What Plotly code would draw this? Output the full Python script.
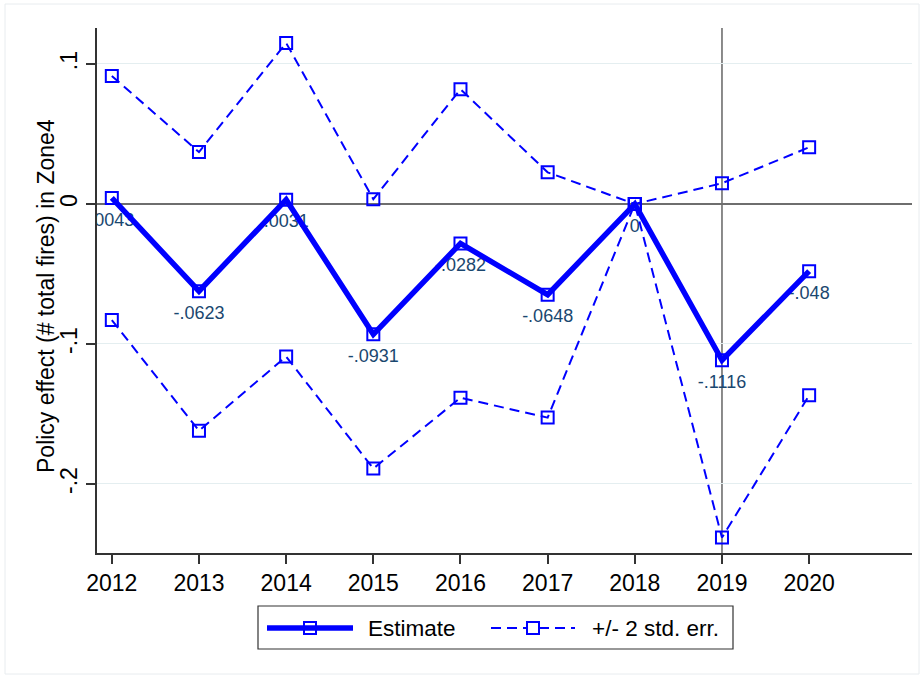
import plotly.graph_objects as go

# Event-study estimates by year with +/- 2 standard-error bands
years = [2012, 2013, 2014, 2015, 2016, 2017, 2018, 2019, 2020]
estimate = [0.0043, -0.0623, 0.0031, -0.0931, -0.0282, -0.0648, 0.0, -0.1116, -0.048]
upper = [0.0914, 0.0371, 0.115, 0.0034, 0.082, 0.0226, 0.0, 0.0148, 0.0405]
lower = [-0.0829, -0.162, -0.109, -0.189, -0.1384, -0.1526, 0.0, -0.2383, -0.1367]

ytick_vals = [-0.2, -0.1, 0, 0.1]
ytick_text = ["-.2", "-.1", "0", ".1"]
ylabel = "Policy effect (# total fires) in Zone4"
legend_names = ["Estimate", "+/- 2 std. err."]
event_year = 2019

BLUE = "#0000ff"
LABEL = "#1a476f"
FONT = "Liberation Sans, Arial, Helvetica, sans-serif"

W, H = 924, 678
ML, MR, MT, MB = 97, 12, 28, 125
PW, PH = W - ML - MR, H - MT - MB


def stata_fmt(v):
    s = f"{v:.4g}"
    if s.startswith("0."):
        s = s[1:]
    elif s.startswith("-0."):
        s = "-" + s[2:]
    return s


def px(x):
    return (x - ML) / PW


def py(y):
    return (H - MB - y) / PH


fig = go.Figure()

# value labels sit underneath the lines, below each estimate
fig.add_trace(go.Scatter(
    x=years, y=estimate, mode="markers+text",
    marker=dict(size=21, opacity=0),
    text=[stata_fmt(v) for v in estimate],
    textposition="bottom center",
    textfont=dict(family=FONT, size=18, color=LABEL),
    showlegend=False, hoverinfo="skip"))

# confidence band lines (upper and lower)
for vals in (upper, lower):
    fig.add_trace(go.Scatter(
        x=years, y=vals, mode="lines+markers",
        line=dict(color=BLUE, width=2, dash="10px,6px"),
        marker=dict(symbol="square-open", size=12, color=BLUE,
                    line=dict(width=2, color=BLUE)),
        showlegend=False, hoverinfo="skip"))

# point estimates
fig.add_trace(go.Scatter(
    x=years, y=estimate, mode="lines+markers",
    line=dict(color=BLUE, width=5.5),
    marker=dict(symbol="square-open", size=12, color=BLUE,
                line=dict(width=2, color=BLUE)),
    showlegend=False, hoverinfo="skip"))

shapes = [
    # reference line at the event year
    dict(type="line", xref="x", yref="paper", x0=event_year, x1=event_year,
         y0=0, y1=1, line=dict(color="#6e6e6e", width=1.6), layer="below"),
    # outer graph border
    dict(type="rect", xref="paper", yref="paper",
         x0=px(5), x1=px(919), y0=py(674), y1=py(4),
         line=dict(color="#e8ecef", width=1)),
    # legend box
    dict(type="rect", xref="paper", yref="paper",
         x0=px(258), x1=px(733), y0=py(649), y1=py(606),
         line=dict(color="#333333", width=1.2), fillcolor="white"),
    # legend key: estimate
    dict(type="line", xref="paper", yref="paper",
         x0=px(267), x1=px(353), y0=py(628), y1=py(628),
         line=dict(color=BLUE, width=5.5)),
    dict(type="rect", xref="paper", yref="paper",
         x0=px(304), x1=px(316), y0=py(634), y1=py(622),
         line=dict(color=BLUE, width=2), fillcolor="rgba(0,0,0,0)"),
    # legend key: std. err. band
    dict(type="line", xref="paper", yref="paper",
         x0=px(491), x1=px(575), y0=py(628), y1=py(628),
         line=dict(color=BLUE, width=2, dash="10px,6px")),
    dict(type="rect", xref="paper", yref="paper",
         x0=px(527), x1=px(539), y0=py(634), y1=py(622),
         line=dict(color=BLUE, width=2), fillcolor="white"),
]

annotations = [
    dict(xref="paper", yref="paper", x=px(366), y=py(628), text=legend_names[0],
         xanchor="left", yanchor="middle", showarrow=False,
         font=dict(family=FONT, size=22.5, color="black")),
    dict(xref="paper", yref="paper", x=px(590), y=py(628), text=legend_names[1],
         xanchor="left", yanchor="middle", showarrow=False,
         font=dict(family=FONT, size=22.5, color="black")),
    # y-axis title
    dict(xref="paper", yref="paper", x=px(46), y=py(296), text=ylabel,
         textangle=-90, xanchor="center", yanchor="middle", showarrow=False,
         font=dict(family=FONT, size=23, color="black")),
]

fig.update_layout(
    width=W, height=H,
    margin=dict(l=ML, r=MR, t=MT, b=MB),
    paper_bgcolor="white", plot_bgcolor="white",
    font=dict(family=FONT, color="black"),
    showlegend=False,
    shapes=shapes, annotations=annotations,
    hovermode=False,
)

fig.update_xaxes(
    range=[2011.83, 2021.18], tickvals=years, ticktext=[str(y) for y in years],
    showline=True, linecolor="#333333", linewidth=1.5,
    ticks="outside", ticklen=9, tickwidth=1.5, tickcolor="#333333",
    tickfont=dict(size=23, family=FONT), showgrid=False, zeroline=False,
)
fig.update_yaxes(
    range=[-0.2493, 0.1257], tickvals=ytick_vals, ticktext=ytick_text,
    tickangle=-90,
    showline=True, linecolor="#333333", linewidth=1.5,
    ticks="outside", ticklen=9, tickwidth=1.5, tickcolor="#333333",
    tickfont=dict(size=23, family=FONT),
    showgrid=True, gridcolor="#e4eef0", gridwidth=1,
    zeroline=True, zerolinecolor="#6e6e6e", zerolinewidth=2,
)

fig.write_html("out.html")
